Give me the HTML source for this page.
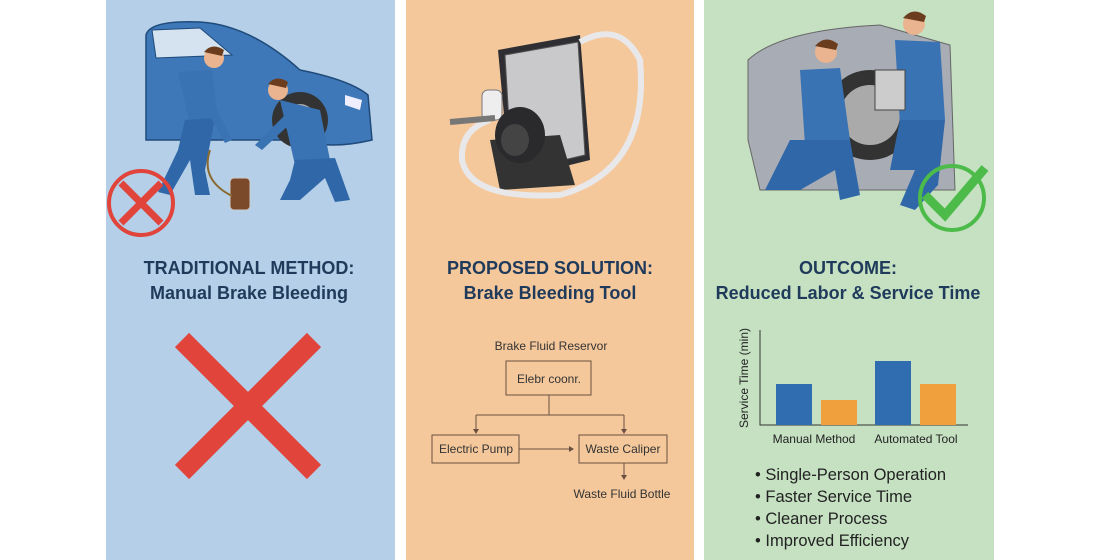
<!DOCTYPE html>
<html><head><meta charset="utf-8"><style>
body{margin:0;width:1100px;height:560px;background:#fff;overflow:hidden;font-family:"Liberation Sans",sans-serif;}
svg{position:absolute;left:0;top:0}
</style></head><body>
<svg width="1100" height="560" viewBox="0 0 1100 560" xmlns="http://www.w3.org/2000/svg" font-family="Liberation Sans, sans-serif">
<rect x="106" y="0" width="289" height="560" fill="#b4cfe7"/>
<rect x="406" y="0" width="288" height="560" fill="#f5c89c"/>
<rect x="704" y="0" width="290" height="560" fill="#c5e1c2"/>

<!-- Panel 1 illustration -->
<path d="M146 35 Q150 20 200 22 Q250 25 300 70 Q350 80 368 95 L372 140 Q330 150 300 140 L146 140 Z" fill="#3f78b8" stroke="#1f4a7a" stroke-width="1.5"/>
<path d="M152 30 L200 28 L232 55 L156 58 Z" fill="#d4e3ef" stroke="#1f4a7a"/>
<circle cx="300" cy="120" r="28" fill="#333"/><circle cx="300" cy="120" r="16" fill="#aaa"/>
<path d="M345 95 L362 100 L360 110 L345 105Z" fill="#eef"/>
<!-- person 1 -->
<circle cx="214" cy="58" r="10" fill="#e9b48f"/><path d="M204 52 Q212 42 224 50 L222 56 Z" fill="#6b3d1e"/>
<path d="M178 72 L212 70 L218 120 L190 125 Z" fill="#3a73b3"/>
<path d="M185 120 L215 118 L205 170 L210 195 L195 195 L190 160 L170 195 L158 192 L178 150 Z" fill="#2f67a8"/>
<path d="M205 85 L232 140 L225 143 L198 95Z" fill="#3a73b3"/>
<!-- person 2 -->
<circle cx="278" cy="90" r="10" fill="#e9b48f"/><path d="M268 84 Q276 74 288 82 L286 88 Z" fill="#6b3d1e"/>
<path d="M280 100 L320 110 L330 160 L295 165 Z" fill="#3a73b3"/>
<path d="M295 160 L335 158 L350 200 L335 202 L325 178 L300 200 L280 200 L290 180Z" fill="#2f67a8"/>
<path d="M285 115 L255 145 L262 150 L292 122Z" fill="#3a73b3"/>
<rect x="230" y="178" width="20" height="32" rx="4" fill="#7a4a2a" stroke="#ccc"/>
<path d="M210 150 Q200 180 232 196" stroke="#8a6a30" stroke-width="2" fill="none"/>
<circle cx="141" cy="203" r="32" fill="none" stroke="#e0443a" stroke-width="4"/>
<path d="M121 183 L161 223 M161 183 L121 223" stroke="#e0443a" stroke-width="7"/>

<!-- Panel 2 device -->
<path d="M498 50 L580 35 L590 160 L510 180 Z" fill="#2f2f33"/>
<path d="M505 55 L578 42 L585 155 L512 172 Z" fill="#c9c9cc" stroke="#555"/>
<rect x="482" y="90" width="20" height="30" rx="6" fill="#eee" stroke="#777"/>
<path d="M490 140 L560 135 L575 185 L500 190Z" fill="#333"/>
<ellipse cx="520" cy="135" rx="25" ry="28" fill="#2a2a2d"/>
<ellipse cx="515" cy="140" rx="14" ry="16" fill="#444"/>
<path d="M580 42 Q620 20 640 60 Q650 170 560 195 Q470 200 462 160 Q460 130 490 120" stroke="#e8e8ea" stroke-width="6" fill="none"/>
<path d="M450 122 L495 118" stroke="#777" stroke-width="6"/>

<!-- Panel 3 -->
<path d="M748 60 Q780 30 880 25 L950 45 L955 190 L760 190 L748 140Z" fill="#a8acb4" stroke="#666"/>
<circle cx="870" cy="115" r="45" fill="#333"/><circle cx="870" cy="115" r="30" fill="#aaa"/>
<circle cx="826" cy="52" r="11" fill="#e9b48f"/><path d="M815 46 Q825 34 838 44 L836 50Z" fill="#6b3d1e"/>
<path d="M800 70 L840 68 L850 140 L805 145Z" fill="#3a73b3"/>
<path d="M790 140 L850 140 L860 195 L840 200 L835 170 L800 190 L765 190 L775 170Z" fill="#2f67a8"/>
<circle cx="914" cy="24" r="11" fill="#e9b48f"/><path d="M903 18 Q913 6 926 16 L924 22Z" fill="#6b3d1e"/>
<path d="M895 40 L940 42 L945 120 L900 125Z" fill="#3a73b3"/>
<path d="M900 120 L945 120 L938 185 L915 210 L900 205 L915 170 L890 170Z" fill="#2f67a8"/>
<rect x="875" y="70" width="30" height="40" fill="#ccc" stroke="#444"/>
<circle cx="952" cy="198" r="32" fill="none" stroke="#4cbb4a" stroke-width="4"/>
<path d="M925 195 L945 215 L985 168" stroke="#4cbb4a" stroke-width="9" fill="none"/>

<!-- Titles -->
<g font-weight="bold" font-size="18" fill="#1f3a5a" text-anchor="middle">
<text x="249" y="274">TRADITIONAL METHOD:</text>
<text x="249" y="299">Manual Brake Bleeding</text>
<text x="550" y="274">PROPOSED SOLUTION:</text>
<text x="550" y="299">Brake Bleeding Tool</text>
<text x="848" y="274">OUTCOME:</text>
<text x="848" y="299">Reduced Labor &amp; Service Time</text>
</g>
<path d="M182 340 L314 472 M314 340 L182 472" stroke="#e0443a" stroke-width="20"/>

<!-- Flow diagram -->
<g font-size="12" fill="#333" text-anchor="middle" stroke-width="1">
<text x="551" y="350">Brake Fluid Reservor</text>
<rect x="506" y="361" width="85" height="34" fill="none" stroke="#6a5040"/>
<text x="549" y="383">Elebr coonr.</text>
<path d="M549 395 V415 M476 415 H624 M476 415 V431 M624 415 V431 M519 449 H571 M624 463 V477" stroke="#6a5040" fill="none"/>
<path d="M473 429 L476 434 L479 429Z M621 429 L624 434 L627 429Z M569 446 L574 449 L569 452Z M621 475 L624 480 L627 475Z" fill="#6a5040"/>
<rect x="432" y="435" width="87" height="28" fill="none" stroke="#6a5040"/>
<text x="476" y="453">Electric Pump</text>
<rect x="579" y="435" width="88" height="28" fill="none" stroke="#6a5040"/>
<text x="623" y="453">Waste Caliper</text>
<text x="622" y="498">Waste Fluid Bottle</text>
</g>

<!-- Chart -->
<path d="M760 330 V425 H968" stroke="#333" fill="none"/>
<rect x="776" y="384" width="36" height="41" fill="#2f6cb0"/>
<rect x="821" y="400" width="36" height="25" fill="#f0a03c"/>
<rect x="875" y="361" width="36" height="64" fill="#2f6cb0"/>
<rect x="920" y="384" width="36" height="41" fill="#f0a03c"/>
<text transform="translate(748 378) rotate(-90)" font-size="12" text-anchor="middle" fill="#222">Service Time (min)</text>
<text x="814" y="443" font-size="12" text-anchor="middle" fill="#222">Manual Method</text>
<text x="916" y="443" font-size="12" text-anchor="middle" fill="#222">Automated Tool</text>
<g font-size="16.5" fill="#222">
<text x="755" y="480">• Single-Person Operation</text>
<text x="755" y="502">• Faster Service Time</text>
<text x="755" y="524">• Cleaner Process</text>
<text x="755" y="546">• Improved Efficiency</text>
</g>
</svg>
</body></html>
